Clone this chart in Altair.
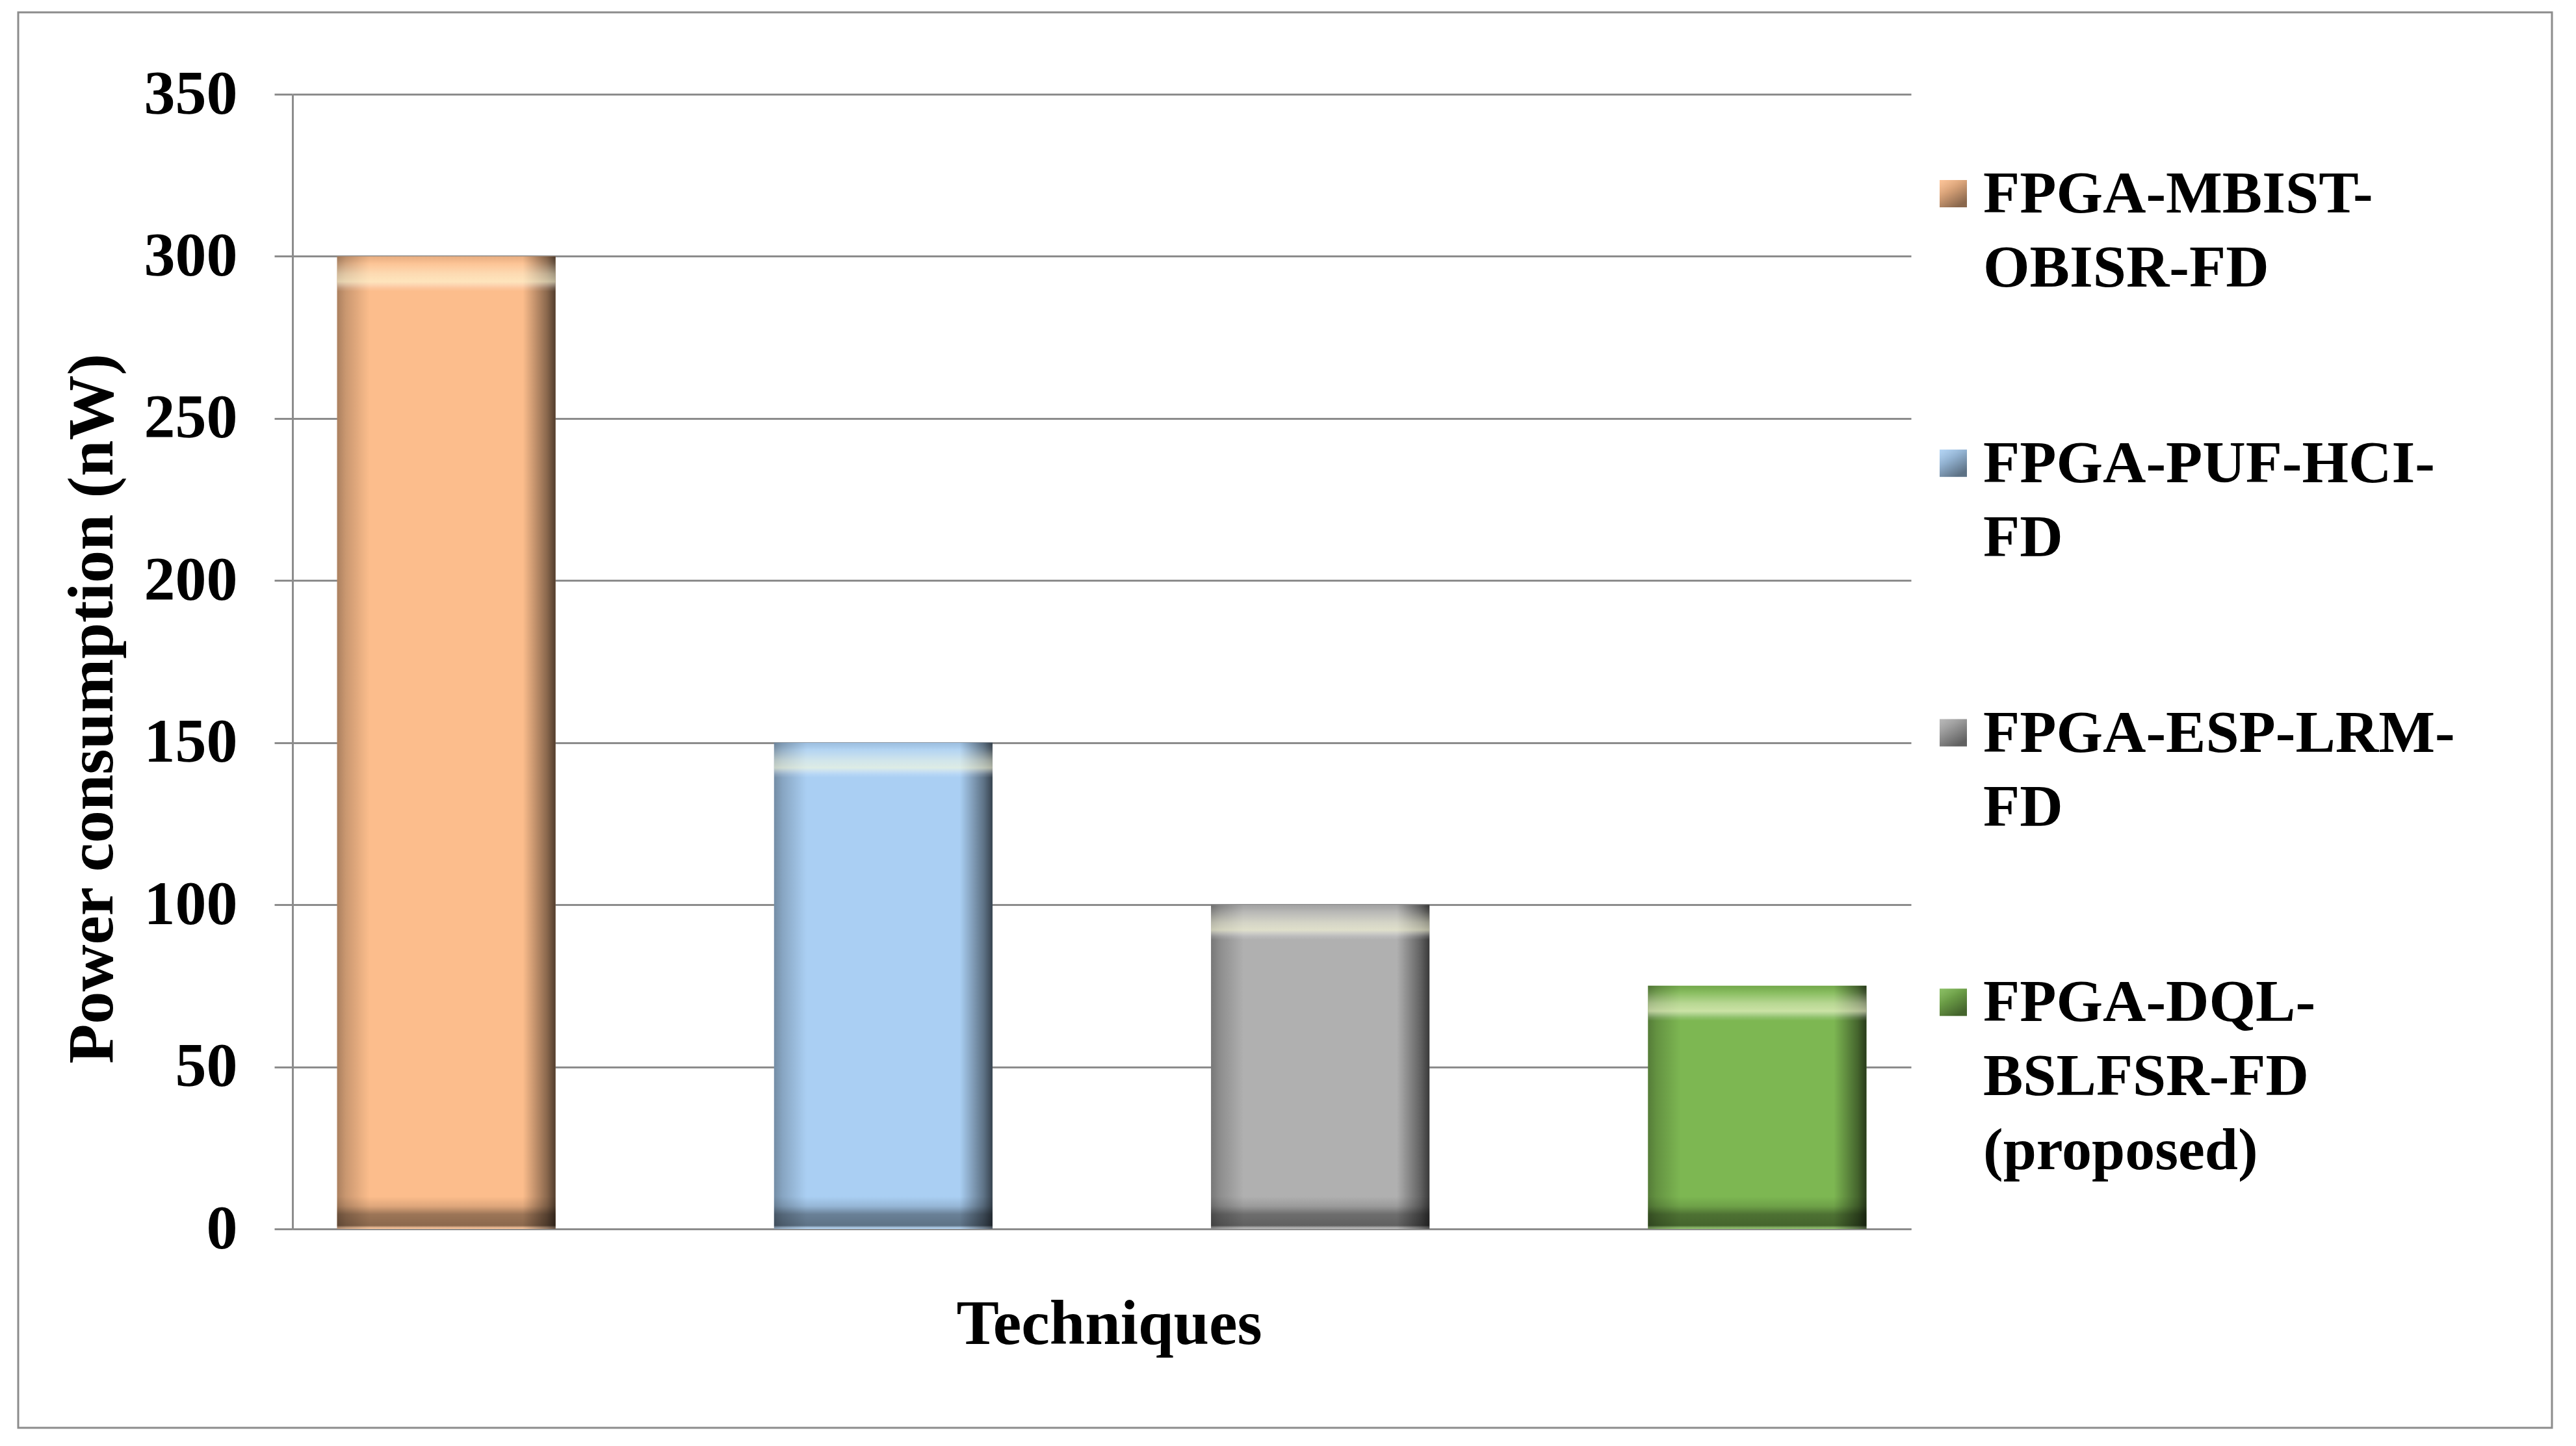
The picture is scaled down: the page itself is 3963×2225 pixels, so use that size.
import altair as alt
import pandas as pd

# ---- data ----
series = ["FPGA-MBIST-OBISR-FD", "FPGA-PUF-HCI-FD", "FPGA-ESP-LRM-FD",
          "FPGA-DQL-BSLFSR-FD (proposed)"]
legend_labels = ["FPGA-MBIST-\nOBISR-FD", "FPGA-PUF-HCI-\nFD", "FPGA-ESP-LRM-\nFD",
                 "FPGA-DQL-\nBSLFSR-FD\n(proposed)"]
power_nw = [300, 150, 100, 75]
colors = ["#FCBD8C", "#AACFF3", "#B0B0B0", "#7DB752"]
y_ticks = [0, 50, 100, 150, 200, 250, 300, 350]

df = pd.DataFrame({"series": series, "power": power_nw, "label": legend_labels})

FONT = "Liberation Serif"
GRID = "#8C8C8C"

x_axis = alt.Axis(title="Techniques", labels=False, ticks=False, grid=False,
                  domain=True, domainColor=GRID, domainWidth=3,
                  titleFont=FONT, titleFontSize=98, titleFontWeight="bold",
                  titleColor="black", titleX=1256, titleY=176,
                  titleBaseline="alphabetic", titleAlign="center")
x_scale = alt.Scale(paddingInner=0.5, paddingOuter=0.102)
x_main = alt.X("series:N", sort=series, scale=x_scale, axis=x_axis)

y_scale = alt.Scale(domain=[0, 350], nice=False, zero=True)
y_axis = alt.Axis(values=y_ticks, title="Power consumption (nW)", grid=True,
                  gridColor=GRID, gridWidth=3, domainColor=GRID, domainWidth=3,
                  tickColor=GRID, tickWidth=3, tickSize=28,
                  labelFont=FONT, labelFontSize=96, labelFontWeight="bold",
                  labelColor="black", labelPadding=57,
                  titleFont=FONT, titleFontSize=100, titleFontWeight="bold",
                  titleColor="black", titleAngle=270, titleX=-278, titleY=945,
                  titleBaseline="alphabetic", titleAlign="center")
y_main = alt.Y("power:Q", scale=y_scale, axis=y_axis)
color_enc = alt.Color("series:N", sort=series,
                      scale=alt.Scale(domain=series, range=colors), legend=None)

bars = alt.Chart(df).mark_bar().encode(x=x_main, y=y_main, color=color_enc)

side_grad = alt.LinearGradient(
    gradient="linear", x1=0, x2=1, y1=0, y2=0,
    stops=[
        alt.GradientStop(offset=0.0, color="rgba(0,0,0,0.32)"),
        alt.GradientStop(offset=0.04, color="rgba(0,0,0,0.20)"),
        alt.GradientStop(offset=0.11, color="rgba(0,0,0,0.07)"),
        alt.GradientStop(offset=0.15, color="rgba(0,0,0,0)"),
        alt.GradientStop(offset=0.85, color="rgba(0,0,0,0)"),
        alt.GradientStop(offset=0.89, color="rgba(0,0,0,0.16)"),
        alt.GradientStop(offset=0.96, color="rgba(0,0,0,0.45)"),
        alt.GradientStop(offset=1.0, color="rgba(0,0,0,0.68)"),
    ],
)
sides = alt.Chart(df).mark_bar(color=side_grad).encode(x=x_main, y=y_main)

top_grad = alt.LinearGradient(
    gradient="linear", x1=0, x2=0, y1=0, y2=1,
    stops=[
        alt.GradientStop(offset=0.0, color="rgba(0,0,0,0.08)"),
        alt.GradientStop(offset=0.2, color="rgba(255,255,230,0.1)"),
        alt.GradientStop(offset=0.5, color="rgba(255,255,225,0.45)"),
        alt.GradientStop(offset=0.72, color="rgba(255,255,220,0.6)"),
        alt.GradientStop(offset=0.9, color="rgba(255,255,255,0.15)"),
        alt.GradientStop(offset=1.0, color="rgba(255,255,255,0)"),
    ],
)
top_bevel = alt.Chart(df).mark_bar(color=top_grad, y2Offset=54).encode(
    x=x_main, y=y_main, y2=alt.Y2("power"))

bot_grad = alt.LinearGradient(
    gradient="linear", x1=0, x2=0, y1=0, y2=1,
    stops=[
        alt.GradientStop(offset=0.0, color="rgba(0,0,0,0)"),
        alt.GradientStop(offset=0.3, color="rgba(0,0,0,0.12)"),
        alt.GradientStop(offset=0.55, color="rgba(0,0,0,0.38)"),
        alt.GradientStop(offset=0.9, color="rgba(0,0,0,0.45)"),
        alt.GradientStop(offset=1.0, color="rgba(255,255,255,0.1)"),
    ],
)
bot_bevel = alt.Chart(df).transform_calculate(base="0").mark_bar(
    color=bot_grad, yOffset=-50).encode(
    x=x_main, y=alt.Y("base:Q", scale=y_scale, axis=y_axis), y2=alt.Y2("base"))

main = alt.layer(bars, sides, top_bevel, bot_bevel)

# ---- legend (drawn from the same series list) ----
leg_y = alt.Y("series:N", sort=series,
              scale=alt.Scale(type="point", padding=0.605, align=0.305), axis=None)
leg_sym = alt.Chart(df).mark_square(size=1764, opacity=1).encode(
    x=alt.value(2555), y=leg_y, color=color_enc)
sym_grad = alt.LinearGradient(
    gradient="linear", x1=0, x2=0.6, y1=0, y2=1,
    stops=[
        alt.GradientStop(offset=0.0, color="rgba(255,255,255,0.1)"),
        alt.GradientStop(offset=0.45, color="rgba(0,0,0,0.15)"),
        alt.GradientStop(offset=1.0, color="rgba(0,0,0,0.45)"),
    ],
)
leg_shade = alt.Chart(df).mark_square(size=1764, opacity=1, color=sym_grad).encode(
    x=alt.value(2555), y=leg_y)
leg_txt = alt.Chart(df).mark_text(
    align="left", baseline="alphabetic", dy=29, font=FONT, fontSize=92,
    fontWeight="bold", lineBreak="\n", lineHeight=114, color="black").encode(
    x=alt.value(2601), y=leg_y, text="label:N")
legend = alt.layer(leg_sym, leg_shade, leg_txt)

# ---- outer frame ----
frame = alt.Chart(pd.DataFrame({"k": [0]})).mark_rect(
    fillOpacity=0, stroke=GRID, strokeWidth=3).encode(
    x=alt.value(-422), x2=alt.value(3476), y=alt.value(-126), y2=alt.value(2052))

chart = alt.layer(main, legend, frame).resolve_scale(y="independent").properties(
    width=2490, height=1746,
    autosize=alt.AutoSizeParams(type="none"),
    padding={"left": 442, "top": 137, "right": 1010, "bottom": 320},
    background="white",
).configure_view(strokeWidth=0)

chart.save("out.html", embed_options={"renderer": "svg", "actions": False})
